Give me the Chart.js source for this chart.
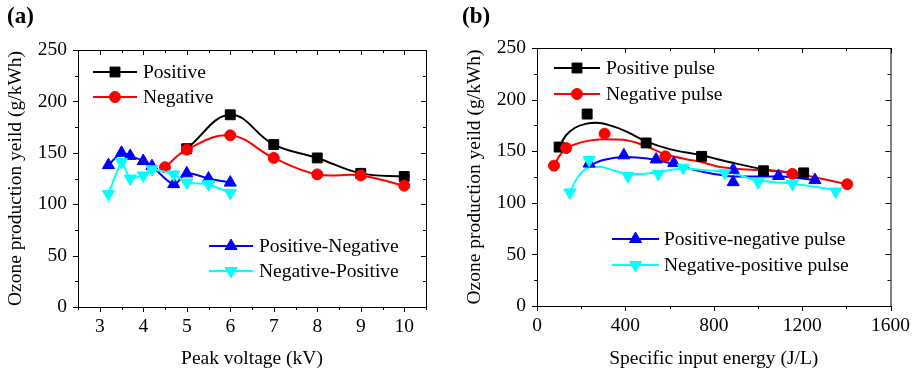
<!DOCTYPE html>
<html>
<head>
<meta charset="utf-8">
<script src="https://cdn.jsdelivr.net/npm/chart.js@4.4.1/dist/chart.umd.min.js"></script>
<style>
  html, body { margin: 0; padding: 0; background: #fff; }
  #wrap { position: relative; width: 918px; height: 373px; overflow: hidden; }
  .panel { position: absolute; top: 0; width: 459px; height: 373px; }
  .tag { position: absolute; top: 4px; font: bold 23px 'Liberation Serif', 'Times New Roman', serif; line-height: 23px; color: #000; }
</style>
</head>
<body>
<div id="wrap">
  <div class="panel" style="left:0"><canvas id="ca" width="459" height="373"></canvas></div>
  <div class="panel" style="left:459px"><canvas id="cb" width="459" height="373"></canvas></div>
  <div class="tag" style="left:7px">(a)</div>
  <div class="tag" style="left:462px">(b)</div>
</div>
<script>
// ---------- Panel (a): Peak voltage (kV) ----------
const aPosV = [5, 6, 7, 8, 9, 10];
const aPosY = [154, 187, 158, 145, 130, 127];
const aNegV = [4.5, 5, 6, 7, 8, 9, 10];
const aNegY = [136, 153, 167, 145, 129, 128, 118];
const aPnV = [3.2, 3.5, 3.7, 4.0, 4.2, 4.7, 5.0, 5.5, 6.0];
const aPnY = [138, 150, 147, 142, 137, 119.5, 130, 125, 121];
const aNpV = [3.2, 3.5, 3.7, 4.0, 4.2, 4.7, 5.0, 5.5, 6.0];
const aNpY = [110, 141, 125, 128, 134, 129, 121, 119.5, 111];
const aLabels = ['Positive', 'Negative', 'Positive-Negative', 'Negative-Positive'];
const aXTicks = [3, 4, 5, 6, 7, 8, 9, 10];
const aXMinor = [2.5, 3.5, 4.5, 5.5, 6.5, 7.5, 8.5, 9.5, 10.5];

// ---------- Panel (b): Specific input energy (J/L) ----------
const bPosE = [100, 227, 494, 745, 1025, 1207];
const bPosY = [154, 186, 158, 145, 131, 129];
const bNegE = [77, 132, 306, 581, 1156, 1404];
const bNegY = [136, 153, 167, 145, 128, 118];
const bPnE = [236, 393, 539, 619, 888, 888, 1093, 1258];
const bPnY = [138, 146, 142, 138.5, 132, 120, 126, 122];
const bNpE = [149, 236, 411, 549, 662, 850, 1001, 1156, 1352];
const bNpY = [110, 141.5, 126, 128, 134, 129, 120, 118.5, 111];
// fitted curves
const bPosFitE = [100, 130, 170, 220, 270, 330, 400, 494, 600, 744, 880, 1023, 1120, 1208];
const bPosFitY = [154, 165, 172.5, 176.5, 177.5, 175, 169.5, 159.5, 152, 146, 139, 132.5, 130, 128.5];
const bNegFitE = [77, 100, 130, 170, 230, 300, 390, 480, 581, 680, 744, 811, 900, 1025, 1156, 1306, 1404];
const bNegFitY = [136, 145, 152.5, 156.5, 160, 161.5, 161, 156, 147, 142, 139.5, 135.5, 133, 131.5, 129, 122.5, 118];
const bPnFitE = [236, 300, 400, 500, 600, 700, 800, 888, 1000, 1093, 1200, 1258];
const bPnFitY = [136, 141.5, 144.5, 143, 138.5, 132.5, 128, 125.5, 125.5, 125.5, 123.5, 122];
const bNpFitE = [149, 180, 210, 250, 300, 350, 420, 500, 580, 662, 765, 870, 991, 1156, 1352];
const bNpFitY = [111, 123, 131, 135, 134.5, 131, 128, 128.5, 131, 133, 131.5, 129.5, 122, 118.5, 112.5];
const bLabels = ['Positive pulse', 'Negative pulse', 'Positive-negative pulse', 'Negative-positive pulse'];
const bXTicks = [0, 400, 800, 1200, 1600];
const bXMinor = [200, 600, 1000, 1400];

const yTicks = [0, 50, 100, 150, 200, 250];
const yMinor = [25, 75, 125, 175, 225];
const yTitle = 'Ozone production yeild (g/kWh)';

const FONT = "'Liberation Serif', 'Times New Roman', serif";
const FS = 19.5;
Chart.defaults.font.family = FONT;
Chart.defaults.color = '#000';

const pts = (xs, ys) => xs.map((x, i) => ({ x: x, y: ys[i] }));

const styles = [
  { color: '#000000', pointStyle: 'rect', radius: 7, rotation: 0 },
  { color: '#ff0000', pointStyle: 'circle', radius: 5.5, rotation: 0 },
  { color: '#0000ff', pointStyle: 'triangle', radius: 7, rotation: 0 },
  { color: '#00ffff', pointStyle: 'triangle', radius: 7, rotation: 180 }
];

function pointSet(label, data, s, order, showLine, tension) {
  return {
    label: label, data: data, showLine: showLine, tension: tension,
    borderColor: s.color, backgroundColor: s.color, borderWidth: 2,
    pointStyle: s.pointStyle, pointRadius: s.radius, pointRotation: s.rotation,
    pointBackgroundColor: s.color, pointBorderColor: s.color, pointBorderWidth: 1,
    order: order
  };
}
function fitSet(data, s, order) {
  return {
    label: '', data: data, showLine: true, cubicInterpolationMode: 'monotone',
    borderColor: s.color, borderWidth: 2, pointRadius: 0, order: order
  };
}

const framePlugin = {
  id: 'frameTicks',
  afterDraw(chart, args, o) {
    const ctx = chart.ctx;
    const { left, right, top, bottom } = chart.chartArea;
    const xs = chart.scales.x, ys = chart.scales.y;
    ctx.save();
    ctx.strokeStyle = '#000';
    ctx.lineWidth = 1;
    ctx.strokeRect(left + 0.5, top + 0.5, right - left, bottom - top);
    ctx.beginPath();
    const xt = (v, len) => {
      const p = Math.round(xs.getPixelForValue(v)) + 0.5;
      ctx.moveTo(p, bottom); ctx.lineTo(p, bottom + len);
      ctx.moveTo(p, top); ctx.lineTo(p, top + len);
    };
    const yt = (v, len) => {
      const p = Math.round(ys.getPixelForValue(v)) + 0.5;
      ctx.moveTo(left + 1, p); ctx.lineTo(left - len, p);
      ctx.moveTo(right, p); ctx.lineTo(right - len, p);
    };
    o.xMajor.forEach(v => xt(v, 5));
    o.xMinor.forEach(v => xt(v, 3));
    o.yMajor.forEach(v => yt(v, 5));
    o.yMinor.forEach(v => yt(v, 3));
    ctx.stroke();
    // legend
    ctx.font = FS + 'px ' + FONT;
    ctx.textBaseline = 'middle';
    ctx.textAlign = 'left';
    o.legend.forEach(e => {
      const ds = chart.data.datasets[e.ds];
      ctx.strokeStyle = ds.borderColor;
      ctx.fillStyle = ds.borderColor;
      ctx.lineWidth = 2;
      ctx.beginPath();
      ctx.moveTo(e.x0, e.y); ctx.lineTo(e.x1, e.y);
      ctx.stroke();
      ctx.lineWidth = 1;
      Chart.helpers.drawPoint(ctx, { pointStyle: ds.pointStyle, radius: ds.pointRadius, rotation: ds.pointRotation, borderWidth: 1 }, (e.x0 + e.x1) / 2, e.y);
      ctx.fillStyle = '#000';
      ctx.fillText(ds.label, e.tx, e.y + 1);
    });
    ctx.restore();
  }
};

function makeOptions(xmin, xmax, xTicks, xTitle, padRight, padTop, xH, fo) {
  return {
    responsive: false, devicePixelRatio: 1, animation: false,
    layout: { padding: { left: 0, right: padRight, top: padTop, bottom: 0 } },
    plugins: { legend: { display: false }, tooltip: { enabled: false }, frameTicks: fo },
    scales: {
      x: {
        type: 'linear', min: xmin, max: xmax,
        grid: { display: false, drawTicks: false },
        border: { display: false },
        afterBuildTicks: s => { s.ticks = xTicks.map(v => ({ value: v })); },
        afterFit: s => { s.height = xH; },
        ticks: { autoSkip: false, maxRotation: 0, padding: 8, font: { size: FS }, color: '#000', callback: v => String(v) },
        title: { display: true, text: xTitle, font: { size: FS }, color: '#000', padding: { top: 4, bottom: 2 } }
      },
      y: {
        type: 'linear', min: 0, max: 250,
        grid: { display: false, drawTicks: false },
        border: { display: false },
        afterBuildTicks: s => { s.ticks = yTicks.map(v => ({ value: v })); },
        afterFit: s => { s.width = 78; },
        ticks: { padding: 11, font: { size: FS }, color: '#000', callback: v => String(v) },
        title: { display: true, text: yTitle, font: { size: FS }, color: '#000', padding: { top: 4, bottom: 4 } }
      }
    }
  };
}

new Chart(document.getElementById('ca'), {
  type: 'scatter',
  data: {
    datasets: [
      pointSet(aLabels[0], pts(aPosV, aPosY), styles[0], 4, true, 0.4),
      pointSet(aLabels[1], pts(aNegV, aNegY), styles[1], 3, true, 0.4),
      pointSet(aLabels[2], pts(aPnV, aPnY), styles[2], 2, true, 0.3),
      pointSet(aLabels[3], pts(aNpV, aNpY), styles[3], 1, true, 0.15)
    ]
  },
  options: makeOptions(2.5, 10.5, aXTicks, 'Peak voltage (kV)', 33, 50, 66, {
    xMajor: aXTicks, xMinor: aXMinor, yMajor: yTicks, yMinor: yMinor,
    legend: [
      { ds: 0, x0: 93, x1: 137, tx: 143, y: 72 },
      { ds: 1, x0: 93, x1: 137, tx: 143, y: 97 },
      { ds: 2, x0: 209, x1: 253, tx: 259, y: 246 },
      { ds: 3, x0: 209, x1: 253, tx: 259, y: 271 }
    ]
  }),
  plugins: [framePlugin]
});

new Chart(document.getElementById('cb'), {
  type: 'scatter',
  data: {
    datasets: [
      pointSet(bLabels[0], pts(bPosE, bPosY), styles[0], 4, false, 0),
      pointSet(bLabels[1], pts(bNegE, bNegY), styles[1], 3, false, 0),
      pointSet(bLabels[2], pts(bPnE, bPnY), styles[2], 2, false, 0),
      pointSet(bLabels[3], pts(bNpE, bNpY), styles[3], 1, false, 0),
      fitSet(pts(bPosFitE, bPosFitY), styles[0], 8),
      fitSet(pts(bNegFitE, bNegFitY), styles[1], 7),
      fitSet(pts(bPnFitE, bPnFitY), styles[2], 6),
      fitSet(pts(bNpFitE, bNpFitY), styles[3], 5)
    ]
  },
  options: makeOptions(0, 1600, bXTicks, 'Specific input energy (J/L)', 26, 48, 67, {
    xMajor: bXTicks, xMinor: bXMinor, yMajor: yTicks, yMinor: yMinor,
    legend: [
      { ds: 0, x0: 95, x1: 141, tx: 147, y: 68 },
      { ds: 1, x0: 95, x1: 141, tx: 147, y: 94 },
      { ds: 2, x0: 153, x1: 200, tx: 205, y: 239 },
      { ds: 3, x0: 153, x1: 200, tx: 205, y: 265 }
    ]
  }),
  plugins: [framePlugin]
});
</script>
</body>
</html>
